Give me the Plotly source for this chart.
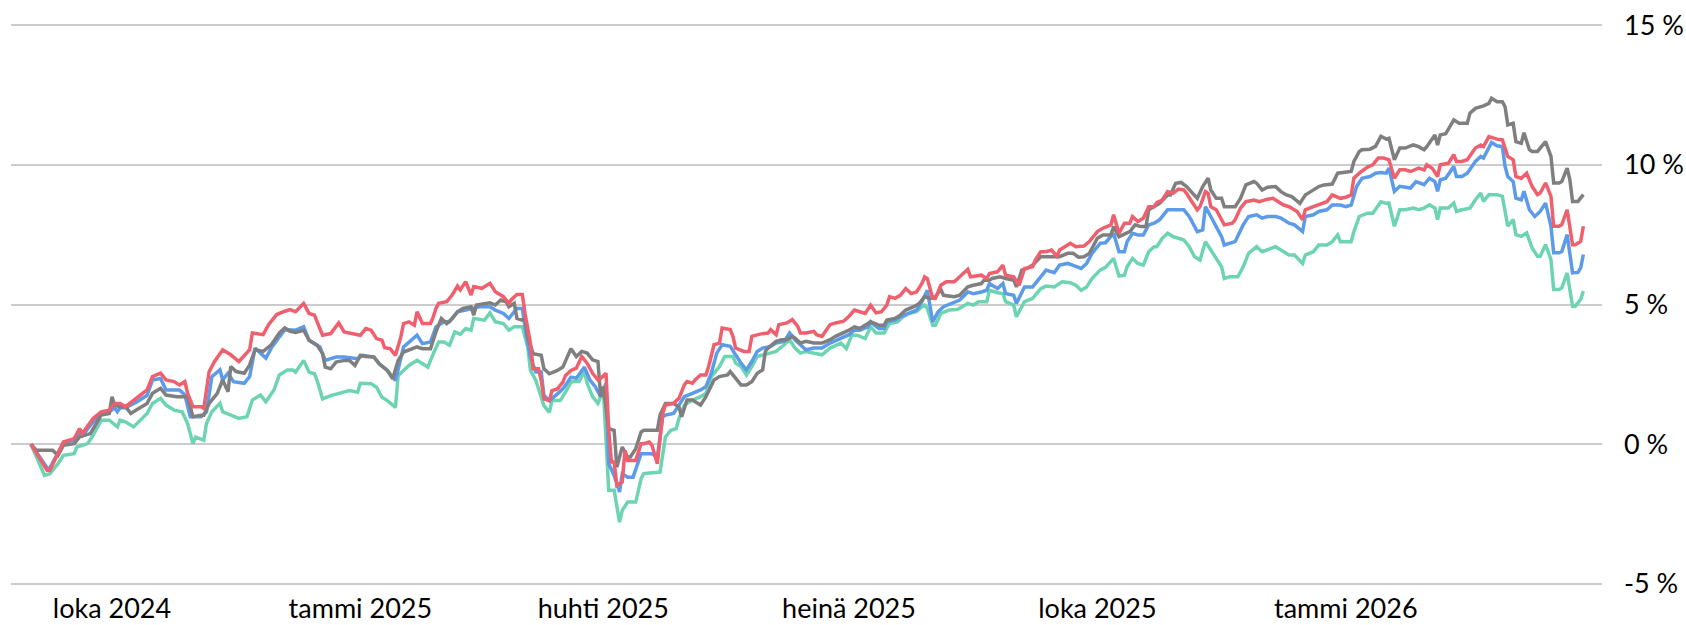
import pandas as pd
import plotly.graph_objects as go

# Day offsets (days after 2024-08-31) and cumulative returns in percent
red_series = [
    (1,0.0),(7,-0.94),(8,-0.94),(11,-0.34),(13,0.08),(17,0.2),(19,0.56),(20,0.38),(24,0.92),(27,1.16),
    (30,1.22),(32,1.46),(34,1.46),(36,1.34),(40,1.64),(44,1.94),(46,2.42),(49,2.54),(51,2.3),(54,2.24),
    (56,2.12),(58,2.24),(59,1.82),(61,1.34),(64,1.34),(65,1.28),(67,2.6),(69,2.96),(72,3.38),(75,3.2),
    (78,2.96),(82,3.38),(83,3.98),(87,3.92),(89,4.28),(92,4.64),(95,4.76),(97,4.82),(99,4.74),
    (102,5.04),(104,4.68),(106,4.62),(107,4.38),(109,3.9),(112,3.96),(113,4.08),(115,4.34),(117,4.02),
    (120,3.96),(123,3.9),(125,4.14),(127,4.08),(129,3.78),(131,3.72),(132,3.45),(134,3.42),(136,3.18),
    (138,3.84),(139,4.32),(141,4.38),(143,4.26),(144,4.74),(146,4.32),(149,4.32),(150,4.56),(151,4.86),
    (152,5.04),(155,5.1),(157,5.34),(159,5.66),(160,5.52),(162,5.82),(164,5.34),(165,5.64),(168,5.58),
    (171,5.76),(173,5.46),(176,5.28),(178,5.04),(179,5.18),(181,5.36),(183,5.36),(184,4.68),(186,3.6),
    (187,2.7),(189,2.7),(190,2.28),(191,1.62),(193,1.56),(194,1.92),(196,1.98),(198,2.22),(199,2.46),
    (201,2.64),(203,2.72),(205,3.14),(207,2.9),(209,2.54),(211,2.3),(212,2.36),(214,2.54),(215,0.5),
    (216,-0.64),(217,-0.64),(218,-1.48),(220,-1.35),(221,-0.22),(222,-0.58),(225,-0.58),(227,0.02),
    (228,0.02),(230,0.08),(231,-0.04),(233,-0.7),(235,1.1),(236,1.4),(239,1.46),(241,1.64),(243,2.12),
    (244,2.24),(246,2.18),(247,2.3),(249,2.48),(251,2.48),(252,2.78),(254,3.56),(256,3.62),(257,4.16),
    (260,4.1),(261,3.86),(262,3.44),(265,3.32),(267,3.32),(268,3.86),(271,3.94),(274,3.98),(275,4.1),
    (277,3.92),(278,4.28),(281,4.34),(283,4.46),(285,4.22),(286,3.98),(288,3.98),(291,4.04),(292,3.92),
    (294,3.86),(297,4.28),(299,4.34),(302,4.4),(304,4.58),(306,4.8),(308,4.74),(310,4.68),(312,4.98),
    (314,4.7),(316,4.74),(318,4.98),(319,5.28),(321,5.22),(323,5.33),(325,5.57),(327,5.39),(329,5.45),
    (331,5.75),(332,5.99),(333,5.93),(335,5.22),(336,5.22),(338,5.69),(340,5.81),(343,5.81),(345,5.99),
    (348,6.26),(349,5.99),(353,6.05),(355,5.93),(356,6.11),(359,6.17),(361,6.41),(362,6.05),(365,5.99),
    (367,5.69),(369,6.29),(372,6.35),(373,6.59),(375,6.89),(377,6.89),(379,6.95),(381,6.73),(382,6.95),
    (385,7.13),(386,7.19),(388,7.07),(391,7.09),(393,7.25),(396,7.61),(398,7.73),(401,7.85),(402,8.21),
    (404,7.55),(406,7.91),(408,7.91),(409,8.15),(411,7.97),(413,8.09),(415,8.5),(417,8.5),(418,8.65),
    (420,8.74),(422,9.04),(424,8.98),(426,9.13),(428,9.1),(429,8.98),(431,8.68),(433,8.39),(434,8.5),
    (436,9.04),(437,8.98),(438,8.5),(440,8.39),(442,8.03),(443,7.85),(446,7.91),(447,8.03),(449,8.45),
    (451,8.68),(454,8.74),(456,8.68),(459,8.77),(461,8.8),(463,8.68),(465,8.56),(467,8.5),(470,8.33),
    (472,8.03),(473,8.39),(476,8.5),(478,8.56),(481,8.68),(483,8.92),(486,8.8),(488,8.84),(490,8.92),
    (491,9.52),(493,9.7),(496,9.92),(498,10.0),(500,10.24),(502,10.24),(504,10.18),(506,9.52),(508,9.82),
    (510,9.82),(512,9.76),(515,9.88),(517,9.82),(518,10.0),(520,9.88),(522,9.58),(523,10.0),(526,10.06),
    (528,10.36),(529,10.12),(531,10.12),(533,10.18),(536,10.6),(538,10.71),(539,10.65),(541,11.01),
    (544,10.92),(546,10.89),(548,10.3),(550,10.18),(551,9.58),(553,9.52),(555,9.7),(557,9.23),(559,8.93),
    (560,8.99),(562,9.35),(564,8.87),(565,7.8),(567,7.8),(568,7.86),(570,8.39),(572,7.14),(573,7.14),
    (575,7.26),(576,7.8),
]

gray_series = [
    (1,0.0),(3,-0.22),(6,-0.22),(9,-0.22),(11,-0.4),(13,-0.04),(17,0.02),(19,0.26),(23,0.38),(27,1.04),
    (30,1.1),(31,1.7),(32,1.4),(34,1.34),(36,1.34),(38,1.1),(40,1.22),(44,1.46),(46,1.82),(49,2.0),
    (51,1.76),(55,1.7),(59,1.7),(61,0.98),(64,1.04),(65,1.04),(67,1.46),(70,1.82),(72,2.3),(74,1.88),
    (75,2.78),(77,2.6),(80,2.54),(82,2.84),(84,3.38),(87,3.32),(90,3.56),(93,3.98),(95,4.16),(97,4.04),
    (99,4.0),(102,4.08),(104,3.72),(107,3.54),(109,3.24),(110,2.76),(112,2.7),(114,2.94),(117,3.0),
    (119,3.0),(121,2.82),(123,3.18),(125,3.14),(128,3.12),(130,2.88),(133,2.64),(135,2.34),(137,3.0),
    (139,3.3),(141,3.36),(144,3.48),(146,3.42),(149,3.42),(151,4.02),(153,4.5),(155,4.32),(157,4.5),
    (159,4.74),(161,4.86),(164,4.92),(165,4.62),(166,4.98),(169,5.04),(171,5.06),(173,4.98),(175,5.16),
    (177,5.1),(178,4.92),(180,5.04),(181,4.5),(183,4.44),(184,4.5),(185,3.84),(187,3.24),(190,3.18),
    (191,2.7),(193,2.52),(196,2.64),(198,2.76),(201,3.42),(203,3.14),(205,3.32),(207,3.26),(209,3.02),
    (211,2.96),(212,1.7),(213,2.06),(214,1.34),(215,0.56),(217,0.5),(218,-0.82),(220,-0.1),(222,-0.46),
    (223,-0.46),(225,-0.16),(227,0.44),(228,0.5),(231,0.5),(233,0.5),(234,1.04),(236,1.46),(239,1.46),
    (241,1.34),(242,0.98),(244,1.58),(246,1.58),(249,1.4),(251,1.7),(254,2.3),(256,2.42),(259,2.48),
    (260,2.6),(261,2.48),(264,2.12),(266,2.12),(268,2.24),(270,2.54),(272,2.66),(273,3.32),(274,3.44),
    (277,3.68),(279,3.74),(281,3.74),(283,3.86),(284,3.8),(286,3.62),(288,3.68),(291,3.62),(294,3.62),
    (297,3.74),(299,3.86),(302,3.98),(304,4.08),(306,4.2),(308,4.14),(311,4.32),(312,4.38),(315,4.26),
    (317,4.26),(318,4.44),(321,4.5),(323,4.62),(325,4.8),(328,4.92),(330,5.04),(332,5.28),(334,5.22),
    (336,5.28),(338,5.54),(339,5.33),(343,5.28),(345,5.33),(348,5.63),(350,5.69),(353,5.75),(354,5.87),
    (356,5.87),(357,5.93),(360,5.99),(362,5.93),(365,5.87),(366,5.63),(368,6.23),(370,6.29),(372,6.41),
    (375,6.71),(377,6.71),(380,6.73),(382,6.71),(385,6.83),(387,6.83),(389,6.69),(391,6.71),(393,6.83),
    (396,7.37),(398,7.49),(401,7.49),(402,7.79),(404,7.43),(408,7.61),(410,7.85),(412,7.79),(414,7.79),
    (415,8.39),(417,8.5),(419,8.62),(422,8.92),(423,8.92),(425,9.34),(427,9.37),(429,9.22),(431,9.01),
    (433,8.8),(435,9.22),(437,9.52),(438,9.1),(440,8.8),(442,8.8),(443,8.5),(445,8.5),(447,8.5),
    (449,8.8),(451,9.28),(454,9.4),(455,9.34),(457,9.1),(459,9.2),(462,9.22),(464,9.04),(466,8.92),
    (468,8.86),(471,8.62),(473,8.92),(475,9.04),(478,9.22),(480,9.28),(483,9.31),(485,9.7),(487,9.72),
    (490,9.76),(491,10.12),(493,10.48),(494,10.54),(497,10.56),(499,10.66),(501,11.02),(503,10.92),
    (504,10.95),(506,10.18),(508,10.6),(510,10.6),(513,10.71),(515,10.65),(517,10.54),(518,10.65),
    (521,11.07),(522,10.71),(523,11.07),(525,11.11),(528,11.61),(530,11.49),(533,11.49),(534,11.85),
    (536,12.02),(539,12.11),(541,12.2),(542,12.38),(544,12.26),(546,12.26),(547,12.08),(548,11.43),
    (550,11.49),(551,10.83),(553,10.77),(554,11.15),(556,10.54),(557,10.48),(559,10.48),(562,10.83),
    (564,10.3),(565,9.35),(567,9.35),(568,9.4),(570,9.88),(571,9.46),(572,8.69),(574,8.69),(576,8.93),
]

blue_series = [
    (1,0.0),(7,-0.85),(8,-0.85),(11,-0.3),(13,0.05),(17,0.15),(19,0.4),(20,0.3),(24,0.8),(27,1.1),
    (30,1.16),(32,1.3),(33,1.16),(34,1.3),(36,1.3),(40,1.5),(44,1.75),(46,2.3),(49,2.35),(51,1.94),
    (56,1.94),(58,1.76),(60,0.98),(64,0.98),(66,1.16),(68,2.42),(71,2.66),(72,2.3),(74,2.54),(76,2.24),
    (80,2.18),(82,2.42),(84,3.44),(88,3.08),(90,3.44),(95,4.1),(99,4.08),(102,4.2),(104,3.72),(108,3.48),
    (110,3.0),(114,3.12),(117,3.12),(122,3.06),(124,3.18),(128,3.12),(130,2.88),(133,2.64),(136,2.28),
    (139,3.48),(144,3.9),(146,3.6),(149,3.66),(151,4.2),(154,4.38),(156,4.38),(159,4.74),(162,4.8),
    (165,4.86),(167,4.92),(171,4.92),(173,4.8),(176,4.68),(178,4.5),(181,4.86),(183,4.86),(184,4.2),
    (186,3.12),(188,2.58),(190,2.58),(191,1.74),(193,1.56),(196,1.8),(198,1.98),(201,2.4),(203,2.36),
    (206,2.76),(208,2.3),(210,2.06),(212,1.7),(214,2.18),(215,-0.7),(217,-1.12),(219,-1.71),(220,-1.06),
    (222,-1.18),(224,-1.18),(226,-0.58),(227,-0.34),(229,-0.34),(231,-0.34),(233,-0.46),(235,0.98),
    (236,1.04),(239,1.1),(241,1.4),(243,1.7),(246,1.82),(249,1.94),(251,2.06),(253,2.54),(255,3.26),
    (257,3.56),(260,3.5),(262,3.2),(264,2.9),(266,2.66),(268,2.96),(270,3.32),(272,3.44),(275,3.5),
    (277,3.62),(280,3.68),(282,3.98),(284,3.74),(286,3.56),(288,3.38),(291,3.44),(294,3.44),(297,3.62),
    (301,3.8),(304,3.92),(306,4.08),(308,4.08),(311,4.2),(312,4.38),(315,4.14),(317,4.14),(318,4.38),
    (321,4.44),(323,4.56),(326,4.68),(329,4.8),(331,5.1),(333,5.51),(335,4.38),(337,4.74),(339,4.92),
    (343,5.1),(345,5.16),(348,5.45),(350,5.39),(353,5.45),(355,5.51),(356,5.75),(359,5.57),(361,5.75),
    (362,5.39),(365,5.33),(366,5.04),(369,5.63),(372,5.63),(375,5.99),(377,6.23),(380,6.14),(382,6.41),
    (385,6.47),(387,6.41),(390,6.29),(392,6.47),(394,6.83),(397,7.19),(399,7.21),(402,7.55),(404,6.89),
    (406,6.89),(407,7.25),(409,7.55),(411,7.49),(413,7.49),(415,7.85),(417,7.91),(419,8.03),(422,8.39),
    (424,8.39),(427,8.41),(428,8.39),(430,8.15),(433,7.61),(435,7.67),(436,8.5),(438,8.15),(440,7.79),
    (442,7.43),(443,7.13),(445,7.19),(447,7.25),(450,7.85),(452,8.15),(455,8.21),(457,8.09),(459,8.15),
    (462,8.15),(464,8.09),(467,7.91),(469,7.85),(472,7.61),(473,8.15),(476,8.21),(478,8.33),(481,8.39),
    (483,8.56),(486,8.56),(488,8.5),(490,8.56),(492,9.22),(494,9.52),(497,9.58),(499,9.7),(501,9.72),
    (503,9.7),(504,9.88),(506,9.05),(508,9.23),(510,9.2),(512,9.17),(514,9.4),(517,9.29),(519,9.52),
    (521,9.4),(522,9.05),(523,9.46),(525,9.52),(528,9.94),(529,9.58),(531,9.58),(533,9.7),(536,10.12),
    (538,10.3),(539,10.24),(542,10.8),(544,10.68),(546,10.65),(547,9.94),(548,9.58),(550,9.4),(551,8.81),
    (553,8.75),(554,9.05),(556,8.39),(558,8.15),(560,8.33),(562,8.63),(564,7.8),(565,6.85),(567,6.85),
    (568,6.9),(570,7.5),(572,6.13),(574,6.15),(575,6.31),(576,6.79),
]

green_series = [
    (1,0.0),(3,-0.46),(6,-1.12),(8,-1.06),(11,-0.7),(13,-0.4),(17,-0.34),(18,-0.1),(20,-0.04),(22,0.02),
    (24,0.32),(27,0.86),(30,0.86),(33,0.62),(34,0.86),(36,0.8),(39,0.62),(41,0.8),(44,1.1),(46,1.46),
    (49,1.64),(51,1.4),(54,1.22),(57,1.16),(59,0.74),(61,0.02),(62,0.26),(65,0.14),(66,0.74),(68,1.16),
    (71,1.46),(72,1.16),(75,1.04),(78,0.92),(81,0.98),(83,1.58),(86,1.76),(88,1.52),(91,1.94),(93,2.48),
    (96,2.66),(98,2.66),(99,2.58),(102,3.0),(104,2.58),(106,2.52),(107,2.28),(109,1.62),(112,1.74),
    (114,1.8),(117,1.86),(119,1.92),(122,1.86),(123,2.18),(127,2.16),(129,2.04),(131,1.68),(133,1.56),
    (136,1.32),(137,2.46),(139,2.64),(141,2.82),(144,3.0),(146,2.88),(148,2.76),(150,3.24),(152,3.66),
    (154,3.66),(156,3.54),(158,4.02),(160,3.93),(162,4.14),(164,4.08),(165,4.5),(169,4.44),(171,4.7),
    (173,4.38),(176,4.32),(178,4.08),(180,4.2),(183,4.2),(185,3.48),(186,2.64),(188,2.28),(191,1.38),
    (193,1.14),(194,1.56),(197,1.56),(199,1.86),(201,2.22),(202,2.24),(204,2.24),(206,2.6),(207,2.18),
    (209,1.7),(211,1.46),(213,1.94),(215,-1.65),(217,-1.65),(219,-2.79),(220,-2.37),(222,-2.07),
    (225,-2.07),(227,-1.23),(228,-1.05),(230,-1.03),(232,-1.03),(234,-1.0),(236,0.26),(238,0.5),
    (240,0.56),(241,0.92),(243,1.4),(246,1.58),(249,1.7),(251,1.82),(253,2.42),(256,2.78),(258,3.14),
    (261,3.14),(262,2.9),(264,2.78),(266,2.48),(268,2.78),(270,3.14),(272,3.2),(275,3.26),(277,3.32),
    (280,3.56),(282,3.74),(284,3.44),(286,3.26),(288,3.32),(291,3.26),(294,3.2),(297,3.44),(301,3.62),
    (303,3.42),(305,3.9),(307,3.9),(310,3.78),(312,4.2),(314,3.98),(317,3.98),(319,4.32),(322,4.38),
    (324,4.56),(326,4.68),(329,4.74),(331,4.92),(332,4.98),(333,4.86),(335,4.26),(336,4.26),(338,4.68),
    (341,4.8),(344,4.82),(346,4.92),(348,5.04),(350,4.98),(352,5.1),(355,5.1),(356,5.51),(359,5.42),
    (361,5.39),(362,5.1),(365,4.98),(366,4.56),(369,5.1),(372,5.22),(375,5.57),(377,5.66),(380,5.63),
    (382,5.75),(383,5.81),(386,5.78),(388,5.69),(390,5.51),(392,5.63),(394,5.93),(397,6.23),(399,6.33),
    (402,6.65),(404,6.02),(406,6.05),(407,6.35),(409,6.65),(411,6.47),(413,6.41),(415,6.89),(417,7.07),
    (418,7.07),(420,7.37),(422,7.55),(424,7.43),(426,7.37),(428,7.31),(430,7.07),(432,6.71),(434,6.59),
    (436,7.25),(438,6.95),(440,6.65),(442,6.35),(443,5.93),(445,5.99),(448,5.99),(450,6.35),(452,6.83),
    (455,7.07),(457,6.89),(460,7.01),(462,7.07),(464,6.95),(467,6.77),(469,6.77),(472,6.47),(473,6.77),
    (476,6.89),(478,7.13),(481,7.13),(483,7.25),(485,7.49),(486,7.25),(490,7.25),(491,7.61),(493,8.15),
    (496,8.27),(498,8.27),(501,8.68),(503,8.62),(504,8.63),(506,7.8),(508,8.39),(510,8.39),(513,8.45),
    (515,8.39),(517,8.45),(519,8.57),(521,8.45),(522,8.04),(523,8.45),(526,8.45),(528,8.63),(529,8.33),
    (531,8.39),(534,8.45),(536,8.75),(538,8.99),(539,8.69),(541,8.93),(544,8.93),(546,8.87),(547,8.33),
    (548,7.8),(550,8.04),(551,7.5),(553,7.44),(555,7.56),(557,7.02),(559,6.73),(560,6.73),(562,7.14),
    (564,6.61),(565,5.54),(567,5.54),(568,5.6),(570,6.13),(572,4.94),(573,4.94),(575,5.18),(576,5.48),
]

tick_dates = ["2024-10-01", "2025-01-01", "2025-04-01", "2025-07-01", "2025-10-01", "2026-01-01"]
tick_labels = ["loka 2024", "tammi 2025", "huhti 2025", "heinä 2025", "loka 2025", "tammi 2026"]
y_ticks = [-5, 0, 5, 10, 15]
y_labels = ["-5 %", "0 %", "5 %", "10 %", "15 %"]

BASE = pd.Timestamp("2024-08-31")

def to_xy(series):
    days = [d for d, _ in series]
    vals = [v for _, v in series]
    dates = BASE + pd.to_timedelta(days, unit="D")
    return dates, vals

colors = {
    "green": "#6dd4b2",
    "blue": "#5b9bea",
    "gray": "#7f7f7f",
    "red": "#ef5f6e",
}

fig = go.Figure()
for name, series in [("green", green_series), ("blue", blue_series),
                     ("gray", gray_series), ("red", red_series)]:
    x, y = to_xy(series)
    fig.add_trace(go.Scatter(x=x, y=y, mode="lines", name=name,
                             line=dict(color=colors[name], width=3.5),
                             hoverinfo="skip", showlegend=False))

x_start = BASE + pd.Timedelta(days=-6.4)
x_end = BASE + pd.Timedelta(days=582.9)

FONT = dict(family="Lato, Open Sans, sans-serif", size=27, color="#000000")

fig.update_layout(
    width=1686, height=625,
    margin=dict(l=11, r=84, t=24, b=40, autoexpand=False),
    paper_bgcolor="white", plot_bgcolor="white",
    font=FONT,
    showlegend=False,
    xaxis=dict(
        type="date", range=[x_start, x_end],
        tickmode="array", tickvals=tick_dates, ticktext=tick_labels,
        showgrid=False, zeroline=False, showline=False, ticks="",
        ticklabelstandoff=5, automargin=False,
        tickfont=FONT,
    ),
    yaxis=dict(
        side="right", range=[-5.04, 15.04],
        tickmode="array", tickvals=y_ticks, ticktext=y_labels,
        showgrid=True, gridcolor="#cccccc", gridwidth=1.6,
        zeroline=False, showline=False, ticks="",
        ticklabelstandoff=21, automargin=False,
        tickfont=FONT,
    ),
)

fig.write_html("out.html", config={"displayModeBar": False},
               post_script="document.body.style.margin='0';")
